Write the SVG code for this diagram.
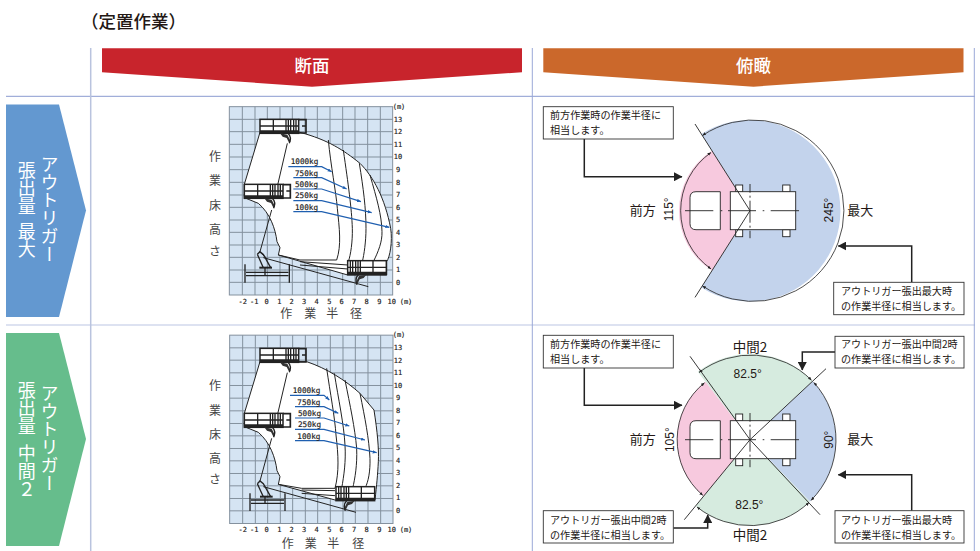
<svg xmlns="http://www.w3.org/2000/svg" width="980" height="551" viewBox="0 0 980 551">
<style>
text{font-family:"Noto Sans CJK JP","Liberation Sans",sans-serif;fill:#231815}
.hd{font-size:17.5px;fill:#fff;text-anchor:middle;font-weight:500}
.vt{writing-mode:vertical-rl;font-size:18px;fill:#fff}
.cb{fill:#fff;stroke:#333;stroke-width:.9}
.ct{font-size:10.1px}
.lb{font-size:13px}
.dg{font-family:"Liberation Sans",sans-serif;font-size:12px;text-anchor:middle}
.ar{fill:none;stroke:#222;stroke-width:.8;marker-start:url(#tick);marker-end:url(#tick)}
.ln{fill:none;stroke:#222;stroke-width:.9}
.con{fill:none;stroke:#222;stroke-width:1.5;marker-end:url(#head)}
.grid{fill:#d5e4f3;stroke:#84919e;stroke-width:3}
.env{fill:#fff;stroke:#222;stroke-width:3;stroke-linejoin:round}
.cv{fill:none;stroke:#222;stroke-width:3}
.pl{fill:none;stroke:#222;stroke-width:4}
.bl{fill:none;stroke:#1f5fb0;stroke-width:3.5;marker-end:url(#bhead)}
.kg{font-family:"DejaVu Sans Mono",monospace;font-size:23px;fill:#222;stroke:#222;stroke-width:.5}
.ax{font-family:"DejaVu Sans Mono",monospace;font-size:21px;fill:#222;stroke:#222;stroke-width:.5;text-anchor:middle}
.jt{font-size:36px;text-anchor:middle;fill:#444}
</style>
<defs>
<marker id="head" markerUnits="userSpaceOnUse" markerWidth="9" markerHeight="9" refX="8" refY="4.5" orient="auto"><path d="M0 0L8.5 4.5L0 9Z" fill="#222"/></marker>
<marker id="tick" markerUnits="userSpaceOnUse" markerWidth="4" markerHeight="4" refX="3.5" refY="1.5" orient="auto-start-reverse"><path d="M3.5 1.5L0 0L0 3Z" fill="#222"/></marker>
<marker id="bhead" markerUnits="userSpaceOnUse" markerWidth="14" markerHeight="12" refX="12" refY="5" orient="auto"><path d="M0 0L12 5L0 10Z" fill="#1f5fb0"/></marker>
<g id="grid"><rect class="grid" x="88" y="35" width="490" height="565"/><path class="grid" style="fill:none" d="M127 35V600M165 35V600M202 35V600M240 35V600M277 35V600M315 35V600M352 35V600M390 35V600M428 35V600M465 35V600M503 35V600M541 35V600M88 73H578M88 110H578M88 148H578M88 186H578M88 224H578M88 262H578M88 300H578M88 337H578M88 375H578M88 412H578M88 450H578M88 487H578M88 525H578M88 562H578"/></g>
<g id="plat">
<rect x="0" y="0" width="116" height="42" fill="#fff" stroke="#222" stroke-width="4.5"/>
<path class="pl" d="M0 20H116M40 0V42M78 0V42M85 0V42M92 0V42M101 0V42M108 0V42"/>
<path d="M0 33H116V43H0Z" fill="#222"/>
<path d="M60 42L82 46L92 66L88 72L80 56L68 52Z" fill="#333"/>
<path class="pl" d="M84 42Q96 54 88 72"/>
</g>
<path id="brk" class="pl" style="stroke-width:5" d="M116 1H138V41H116M126 20H138"/>
<g id="veh">
<rect class="ln" style="fill:#fff" x="-14.3" y="-25.7" width="7" height="7"/>
<rect class="ln" style="fill:#fff" x="-14.3" y="19" width="7" height="7"/>
<rect class="ln" style="fill:#fff" x="32.7" y="-25.7" width="7.3" height="7"/>
<rect class="ln" style="fill:#fff" x="32.7" y="19" width="7.3" height="7"/>
<rect class="ln" style="fill:#fff" x="-19.7" y="-19" width="65.4" height="38"/>
<path class="ln" style="fill:#fff" d="M-29.7 -19V19H-54Q-60 19 -60 13V-13Q-60 -19 -54 -19Z"/>
<path class="ln" d="M-65 0H-36.7M-29.3 0H-27.7M-22 0H6M12.7 0H14.3M20.7 0H49M0 -26.7V-18M0 -15V-13M0 -10V12M0 15V17M0 20V27.5"/>
</g>
</defs>

<g id="frame" fill="none">
<path d="M6 96.3H975" stroke="#8a9ad0" stroke-width="1"/>
<path d="M6 325H975" stroke="#bcc6e4" stroke-width="1.2"/>
<path d="M90.7 48V551" stroke="#b9c3de" stroke-width="1.5"/>
<path d="M532.3 48V551M974.3 48V551" stroke="#9aa8d8" stroke-width="1"/>
</g>

<text id="title" x="81" y="27.5" font-size="17.5" font-weight="500">（定置作業）</text>

<g id="head-section"><polygon points="102,48.3 522,48.3 522,72.3 312,86.7 102,72.3" fill="#c8242c"/><text class="hd" x="312" y="72">断面</text></g>
<g id="head-plan"><polygon points="543.3,48.3 963.5,48.3 963.5,72.3 753.5,86.7 543.3,72.3" fill="#cb682b"/><text class="hd" x="753.5" y="72">俯瞰</text></g>

<g id="row-max"><polygon points="6,104.5 59,104.5 86,210.5 59,317 6,317" fill="#6398d0"/>
<text class="vt" x="49.5" y="155.5">アウトリガー</text>
<text class="vt" x="26.7" y="161.5">張出量 <tspan y="222.5">最大</tspan></text></g>
<g id="row-mid"><polygon points="6,333 59,333 86,439 59,546 6,546" fill="#66bd8c"/>
<text class="vt" x="49.5" y="384.5">アウトリガー</text>
<text class="vt" x="26.7" y="381.5">張出量 <tspan y="444">中間２</tspan></text></g>

<g id="chart-max" transform="translate(200,95) scale(.33333)">
<use href="#grid"/>
<path class="env" d="M180 112H300C385 135 430 165 480 205C520 245 555 310 572 400C578 440 570 485 560 500V540H443L235 480L240 458L231 440C226 400 210 355 175 325L133 308V268Z"/>
<path class="cv" d="M385 135C392 210 408 290 412 340C418 400 425 450 410 495H300L235 480M430 165C445 270 455 340 457 400C458 440 452 480 445 500M478 205C490 280 498 340 498 400C498 440 492 480 487 500M510 240C530 310 545 360 546 410C547 440 535 470 520 500M300 500L443 510M300 510L443 522"/>
<path class="cv" d="M262 145L233 270M215 345L180 470M190 488L505 575M178 470L200 490"/>
<use href="#plat" transform="translate(180,73)"/><use href="#brk" transform="translate(180,73)"/>
<use href="#plat" transform="translate(133,268)"/><use href="#brk" transform="translate(133,268)"/>
<use href="#plat" transform="translate(559,497) scale(-1,1)"/>
<path class="pl" d="M135 508V563M268 508V563M138 532H265M138 542H265"/>
<path d="M178 515H216V521H178Z" fill="#222"/>
<path class="pl" d="M172 478L180 470L190 478L212 518M172 478L190 518M195 518V540"/>
<path class="bl" d="M265 215H365L395 230"/><path class="bl" d="M280 248H365L440 282"/><path class="bl" d="M280 282H365L483 320"/><path class="bl" d="M280 317H365L515 353"/><path class="bl" d="M280 350H365L568 397"/>
<text class="kg" x="272" y="208">1000kg</text><text class="kg" x="285" y="242">750kg</text><text class="kg" x="285" y="276">500kg</text><text class="kg" x="285" y="310">250kg</text><text class="kg" x="285" y="344">100kg</text>
<text class="ax" x="597" y="41">(m)</text>
<text class="ax" x="594" y="80">13</text><text class="ax" x="594" y="118">12</text><text class="ax" x="594" y="155">11</text><text class="ax" x="594" y="193">10</text><text class="ax" x="594" y="231">9</text><text class="ax" x="594" y="269">8</text><text class="ax" x="594" y="306">7</text><text class="ax" x="594" y="344">6</text><text class="ax" x="594" y="382">5</text><text class="ax" x="594" y="419">4</text><text class="ax" x="594" y="457">3</text><text class="ax" x="594" y="494">2</text><text class="ax" x="594" y="532">1</text><text class="ax" x="594" y="569">0</text>
<text class="ax" x="128" y="626">-2</text><text class="ax" x="163" y="626">-1</text><text class="ax" x="200" y="626">0</text><text class="ax" x="238" y="626">1</text><text class="ax" x="275" y="626">2</text><text class="ax" x="312" y="626">3</text><text class="ax" x="350" y="626">4</text><text class="ax" x="388" y="626">5</text><text class="ax" x="425" y="626">6</text><text class="ax" x="462" y="626">7</text><text class="ax" x="500" y="626">8</text><text class="ax" x="538" y="626">9</text><text class="ax" x="575" y="626">10</text><text class="ax" x="618" y="626">(m)</text>
<text class="jt" x="259" y="670">作</text><text class="jt" x="331" y="670">業</text><text class="jt" x="397" y="670">半</text><text class="jt" x="468" y="670">径</text>
<text class="jt" x="45" y="198">作</text><text class="jt" x="45" y="271">業</text><text class="jt" x="45" y="344">床</text><text class="jt" x="45" y="416">高</text><text class="jt" x="45" y="483">さ</text>
</g>

<g id="chart-mid" transform="translate(200,325) scale(.33333)">
<use href="#grid" transform="translate(1,-4.5)"/>
<path class="env" d="M180 110H320C380 130 435 165 480 205L522 255C532 320 537 370 535 410C533 450 530 480 525 525H405L235 478L240 455L231 437C226 397 210 352 175 322L133 305V265Z"/>
<path class="cv" d="M380 130C390 200 405 280 408 330C415 390 418 440 405 490H305L235 478M403 145C415 220 432 300 435 360C438 410 432 450 425 490M435 165C450 240 465 310 470 370C472 420 465 460 458 490M480 205C495 280 507 340 510 400C511 440 505 470 495 490M305 495L405 497M305 505L405 512"/>
<path class="cv" d="M262 143L233 267M215 340L180 468M190 485L468 562"/>
<use href="#plat" transform="translate(180,70)"/><use href="#brk" transform="translate(180,70)"/>
<use href="#plat" transform="translate(133,265)"/><use href="#brk" transform="translate(133,265)"/>
<use href="#plat" transform="translate(524,485) scale(-1,1)"/>
<path class="pl" d="M150 505V558M255 505V558M153 525H252M153 535H252"/>
<path d="M180 512H218V518H180Z" fill="#222"/>
<path class="pl" d="M172 476L180 468L190 476L212 515M172 476L190 515M195 515V535"/>
<path class="bl" d="M270 211H372L388 225"/><path class="bl" d="M285 245H372L415 265"/><path class="bl" d="M285 279H372L448 303"/><path class="bl" d="M285 313H372L495 345"/><path class="bl" d="M285 347H372L530 383"/>
<text class="kg" x="278" y="205">1000kg</text><text class="kg" x="292" y="239">750kg</text><text class="kg" x="294" y="273">500kg</text><text class="kg" x="294" y="307">250kg</text><text class="kg" x="292" y="341">100kg</text>
<text class="ax" x="597" y="37">(m)</text>
<text class="ax" x="594" y="76">13</text><text class="ax" x="594" y="114">12</text><text class="ax" x="594" y="151">11</text><text class="ax" x="594" y="188">10</text><text class="ax" x="594" y="226">9</text><text class="ax" x="594" y="264">8</text><text class="ax" x="594" y="301">7</text><text class="ax" x="594" y="339">6</text><text class="ax" x="594" y="376">5</text><text class="ax" x="594" y="414">4</text><text class="ax" x="594" y="451">3</text><text class="ax" x="594" y="489">2</text><text class="ax" x="594" y="526">1</text><text class="ax" x="594" y="564">0</text>
<text class="ax" x="128" y="621">-2</text><text class="ax" x="163" y="621">-1</text><text class="ax" x="200" y="621">0</text><text class="ax" x="238" y="621">1</text><text class="ax" x="275" y="621">2</text><text class="ax" x="312" y="621">3</text><text class="ax" x="350" y="621">4</text><text class="ax" x="388" y="621">5</text><text class="ax" x="425" y="621">6</text><text class="ax" x="462" y="621">7</text><text class="ax" x="500" y="621">8</text><text class="ax" x="538" y="621">9</text><text class="ax" x="575" y="621">10</text><text class="ax" x="618" y="621">(m)</text>
<text class="jt" x="263" y="669">作</text><text class="jt" x="332" y="669">業</text><text class="jt" x="400" y="669">半</text><text class="jt" x="475" y="669">径</text>
<text class="jt" x="45" y="196">作</text><text class="jt" x="45" y="269">業</text><text class="jt" x="45" y="342">床</text><text class="jt" x="45" y="413">高</text><text class="jt" x="45" y="478">さ</text>
</g>

<g id="plan-max">
<path d="M750 210.7L701.3 134A90.7 90.7 0 1 1 701.3 287.4Z" fill="#c3d3ec"/>
<path d="M750 210.7L712 150.7A71 71 0 0 0 712 270.7Z" fill="#f7c9de"/>
<use href="#veh" x="750" y="210.7"/>
<path class="ln" d="M695 124L750 210.7L695 297.4"/>
<path class="ar" d="M702.5 135.5A90.7 90.7 0 1 1 702.5 285.9"/>
<path class="ar" d="M711 152.5A71 71 0 0 0 711 268.9"/>
<text class="lb" x="629.7" y="215">前方</text><text class="lb" x="847.3" y="215">最大</text>
<text class="dg" transform="translate(673.3,209.3) rotate(-90)">115°</text>
<text class="dg" transform="translate(833.3,210) rotate(-90)">245°</text>
</g>

<g id="plan-mid">
<path d="M750 439.7L697.8 371.7A85.7 85.7 0 0 1 812.6 381.2Z" fill="#d6ebdf"/>
<path d="M750 439.7L810 501.4A85.7 85.7 0 0 1 695.7 506.1Z" fill="#d6ebdf"/>
<path d="M750 439.7L812.6 381.2A85.7 85.7 0 0 1 810 501.4Z" fill="#c3d3ec"/>
<path d="M750 439.7L705.5 381.8A73 73 0 0 0 703.7 496.3Z" fill="#f7c9de"/>
<use href="#veh" x="750" y="439.7"/>
<path class="ln" d="M690 356.3L750 439.7L820 514.7M684.3 519.7L750 439.7L826 368.7"/>
<path class="ar" d="M699 372.5A85.7 85.7 0 0 1 811.5 380.2"/>
<path class="ar" d="M813.8 382.4A85.7 85.7 0 0 1 811 500.4"/>
<path class="ar" d="M809 502.4A85.7 85.7 0 0 1 697 507"/>
<path class="ar" d="M704.5 382.8A73 73 0 0 0 702.8 495.3"/>
<text class="lb" x="629.7" y="444">前方</text><text class="lb" x="847.3" y="444">最大</text>
<text class="lb" style="font-size:13.5px" text-anchor="middle" x="750" y="352">中間2</text>
<text class="lb" style="font-size:13.5px" text-anchor="middle" x="750" y="539.5">中間2</text>
<text class="dg" x="747.7" y="378">82.5°</text><text class="dg" x="749.3" y="509">82.5°</text>
<text class="dg" transform="translate(674.3,439.7) rotate(-90)">105°</text>
<text class="dg" transform="translate(832.7,439.7) rotate(-90)">90°</text>
</g>

<g id="connectors">
<path class="con" d="M584.3 139V176.7H682"/>
<path class="con" d="M911.7 282.3V246H838.3"/>
<path class="con" d="M584.3 368V405.3H682"/>
<path class="con" d="M835 352H802.3V370"/>
<path class="con" d="M673.3 528H707.7V515"/>
<path class="con" d="M911.7 510.7V474.7H838.3"/>
</g>

<g id="box-front-1"><rect class="cb" x="543.3" y="106.7" width="130" height="32.3"/><text class="ct" x="550" y="119">前方作業時の作業半径に</text><text class="ct" x="550" y="134">相当します。</text></g>
<g id="box-max-1"><rect class="cb" x="833.7" y="282.3" width="130.3" height="32.4"/><text class="ct" x="841" y="294.5">アウトリガー張出最大時</text><text class="ct" x="841" y="310">の作業半径に相当します。</text></g>
<g id="box-front-2"><rect class="cb" x="543.3" y="335.3" width="130" height="32.7"/><text class="ct" x="550" y="348">前方作業時の作業半径に</text><text class="ct" x="550" y="363">相当します。</text></g>
<g id="box-mid-top"><rect class="cb" x="835" y="336.3" width="129" height="31.7"/><text class="ct" x="841" y="348">アウトリガー張出中間2時</text><text class="ct" x="841" y="363">の作業半径に相当します。</text></g>
<g id="box-mid-bottom"><rect class="cb" x="543.3" y="510.7" width="130" height="32.3"/><text class="ct" x="550" y="523.5">アウトリガー張出中間2時</text><text class="ct" x="550" y="539">の作業半径に相当します。</text></g>
<g id="box-max-2"><rect class="cb" x="835" y="510.7" width="129" height="32.3"/><text class="ct" x="841" y="523.5">アウトリガー張出最大時</text><text class="ct" x="841" y="539">の作業半径に相当します。</text></g>
</svg>
